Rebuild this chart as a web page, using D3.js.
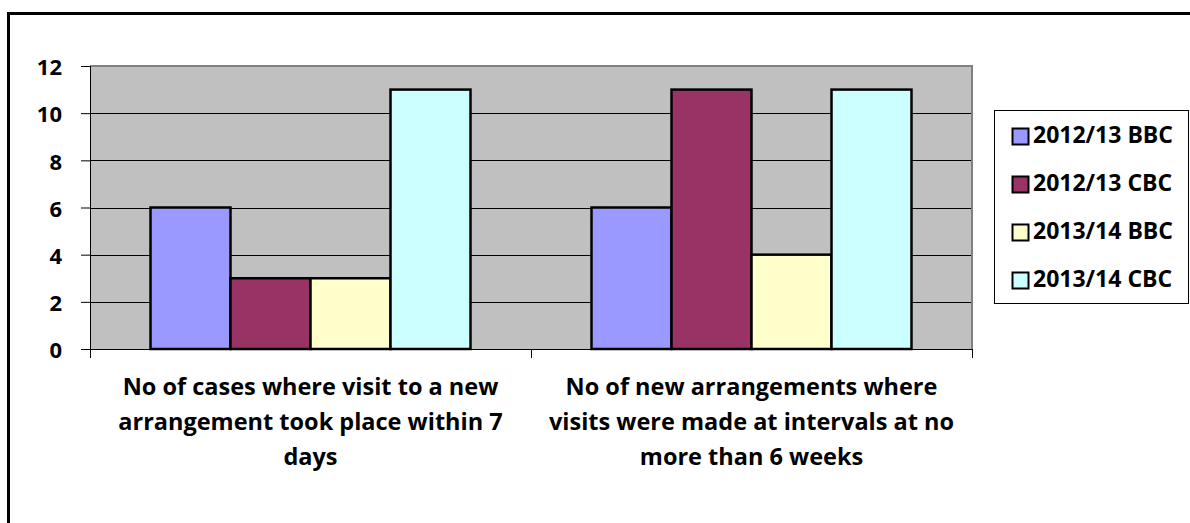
<!DOCTYPE html>
<html><head><meta charset="utf-8">
<script src="https://cdn.jsdelivr.net/npm/d3@7"></script>
<style>
html,body{margin:0;padding:0;background:#fff;}
svg{display:block;}
text{font-family:"Open Sans",sans-serif;font-weight:700;fill:#000;}
</style></head>
<body><svg id="c" width="1190" height="523"></svg>
<script>
const categories = [
  ["No of cases where visit to a new", "arrangement took place within 7", "days"],
  ["No of new arrangements where", "visits were made at intervals at no", "more than 6 weeks"]
];
const seriesNames = ["2012/13 BBC", "2012/13 CBC", "2013/14 BBC", "2013/14 CBC"];
const s2012BBC = [6, 6];
const s2012CBC = [3, 11];
const s2013BBC = [3, 4];
const s2013CBC = [11, 11];
const seriesValues = [s2012BBC, s2012CBC, s2013BBC, s2013CBC];
const seriesColors = ["#9999FF", "#993366", "#FFFFCC", "#CCFFFF"];
const yTicks = [0, 2, 4, 6, 8, 10, 12];

const FONT = "'Open Sans', sans-serif";
const svg = d3.select("#c");
const plot = {left: 90, top: 66, right: 972, bottom: 349};

// outer border
svg.append("rect").attr("x", 8.5).attr("y", 13.5).attr("width", 1200).attr("height", 530)
  .attr("fill", "none").attr("stroke", "#000").attr("stroke-width", 3);

const x0 = d3.scaleBand().domain(d3.range(categories.length)).range([plot.left, plot.right]).paddingInner(0).paddingOuter(0);
const groupW = 320;
const x1 = d3.scaleBand().domain(d3.range(seriesNames.length)).range([0, groupW]).padding(0);
const y = d3.scaleLinear().domain([0, 12]).range([plot.bottom, plot.top]);

// plot background
svg.append("rect").attr("x", plot.left).attr("y", plot.top)
  .attr("width", plot.right - plot.left).attr("height", plot.bottom - plot.top)
  .attr("fill", "#C0C0C0");

// gridlines
svg.append("g").selectAll("line").data(yTicks.filter(t => t > 0 && t < 12)).join("line")
  .attr("x1", plot.left).attr("x2", plot.right)
  .attr("y1", d => Math.round(y(d)) + 0.5).attr("y2", d => Math.round(y(d)) + 0.5)
  .attr("stroke", "#000").attr("stroke-width", 1);

// plot top/right border
svg.append("path")
  .attr("d", `M${plot.left},${plot.top} H${plot.right} V${plot.bottom}`)
  .attr("fill", "none").attr("stroke", "#808080").attr("stroke-width", 2);

// bars
const groups = svg.append("g").selectAll("g").data(categories).join("g")
  .attr("transform", (d, i) => `translate(${x0(i) + (x0.bandwidth() - groupW) / 2},0)`);
groups.selectAll("rect").data((d, i) => seriesValues.map((s, k) => ({k, v: s[i]}))).join("rect")
  .attr("x", d => x1(d.k)).attr("y", d => y(d.v))
  .attr("width", x1.bandwidth()).attr("height", d => y(0) - y(d.v))
  .attr("fill", d => seriesColors[d.k]).attr("stroke", "#000").attr("stroke-width", 2.5);

// y axis
const yAxis = d3.axisLeft(y).tickValues(yTicks).tickSize(9).tickPadding(19);
const ya = svg.append("g").attr("transform", `translate(${plot.left},0)`).call(yAxis);
ya.select(".domain").attr("stroke", "#000").attr("d", `M0.5,${plot.top}V${plot.bottom}`);
ya.selectAll(".tick line").attr("stroke", "#000");
ya.selectAll(".tick text").attr("font-size", 22).attr("font-family", FONT).attr("font-weight", 700)
  .attr("fill", "#000").attr("dy", "0.4em").attr("x", -28);

// x axis
svg.append("line").attr("x1", 81).attr("x2", plot.right).attr("y1", plot.bottom + 0.5).attr("y2", plot.bottom + 0.5)
  .attr("stroke", "#000");
const xTickPos = [plot.left, ...categories.map((c, i) => x0(i) + x0.bandwidth())];
svg.append("g").selectAll("line").data(xTickPos).join("line")
  .attr("x1", d => Math.round(d) + 0.5).attr("x2", d => Math.round(d) + 0.5)
  .attr("y1", plot.bottom).attr("y2", plot.bottom + 9).attr("stroke", "#000");

// category labels
const lab = svg.append("g").selectAll("text").data(categories).join("text")
  .attr("text-anchor", "middle").attr("font-size", 23.5)
  .attr("transform", (d, i) => `translate(${x0(i) + x0.bandwidth() / 2},0)`);
lab.selectAll("tspan").data(d => d).join("tspan")
  .attr("x", 0).attr("y", (d, j) => 395 + j * 35).text(d => d);

// legend
svg.append("rect").attr("x", 994.5).attr("y", 110.5).attr("width", 194).attr("height", 193)
  .attr("fill", "#fff").attr("stroke", "#000").attr("stroke-width", 1);
const leg = svg.append("g").selectAll("g").data(seriesNames).join("g")
  .attr("transform", (d, i) => `translate(1012,${143 + i * 48})`);
leg.append("rect").attr("x", 0.5).attr("y", -14.5).attr("width", 16).attr("height", 16)
  .attr("fill", (d, i) => seriesColors[i]).attr("stroke", "#000").attr("stroke-width", 2);
leg.append("text").attr("x", 21).attr("y", 0).attr("font-size", 23).text(d => d);
</script></body></html>
